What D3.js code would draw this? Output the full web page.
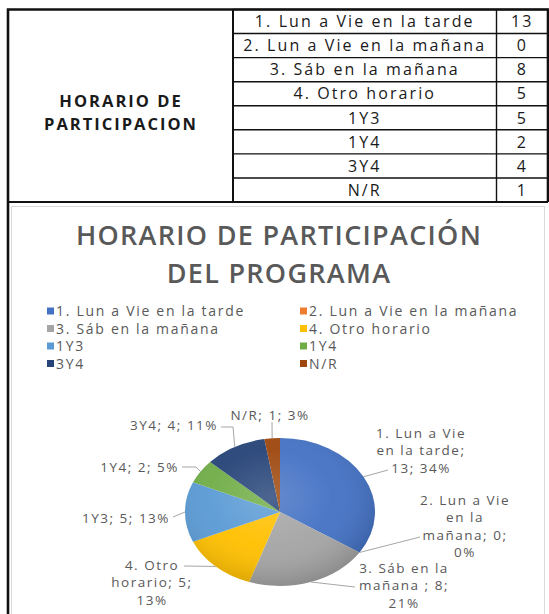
<!DOCTYPE html>
<html>
<head lang="es">
  <meta charset="UTF-8">
<title>Horario de participacion</title>
<style>
body { margin: 0; background: #fff; }
.tbl { font-family: "Open Sans", sans-serif; font-size: 16px; letter-spacing: 2.1px; fill: #1a1a1a; }
.tblhead { font-weight: bold; font-size: 16.5px; letter-spacing: 2px; }
.title { font-family: "Open Sans", sans-serif; font-size: 27px; font-weight: 600; letter-spacing: 1.3px; fill: #595959; }
.legend { font-family: "Open Sans", sans-serif; font-size: 14px; letter-spacing: 1.7px; fill: #595959; }
.lbl { font-family: "Open Sans", sans-serif; font-size: 13.5px; letter-spacing: 1.5px; fill: #595959; }
</style>
<script src="https://cdn.jsdelivr.net/npm/d3@7"></script>
</head>
<body>
<div id="vis"></div>
<script>

// data
var categories = ["1. Lun a Vie en la tarde", "2. Lun a Vie en la mañana", "3. Sáb en la mañana",
  "4. Otro horario", "1Y3", "1Y4", "3Y4", "N/R"];
var counts = [13, 0, 8, 5, 5, 2, 4, 1];
var colors = ["#4472C4", "#ED7D31", "#A5A5A5", "#FFC000", "#5B9BD5", "#70AD47", "#264478", "#9E480E"];
var tableHeader = ["HORARIO DE", "PARTICIPACION"];
var titleLines = ["HORARIO DE PARTICIPACIÓN", "DEL PROGRAMA"];
// how the data labels wrap in the chart
var labelNames = [["1. Lun a Vie", "en la tarde;"], ["2. Lun a Vie", "en la", "mañana;"], ["3. Sáb en la", "mañana ;"],
  ["4. Otro", "horario;"], ["1Y3;"], ["1Y4;"], ["3Y4;"], ["N/R;"]];

var total = d3.sum(counts);
function pct(v) { return Math.round(v / total * 100) + "%"; }

// build the label lines: name; value; percent
var labelLines = labelNames.map(function(n, i) {
  var lines = n.slice();
  var last = lines.length - 1;
  if (lines.length == 1) {
    lines[0] = lines[0] + " " + counts[i] + "; " + pct(counts[i]);
  } else if (i == 0) {
    lines.push(counts[i] + "; " + pct(counts[i]));
  } else {
    lines[last] = lines[last] + " " + counts[i] + ";";
    lines.push(pct(counts[i]));
  }
  return lines;
});

// label placement (x, y of first line, anchor, leader bend points)
var labelPos = [
  {x: 421, y: 433, a: "middle", lead: [[388, 470]]},
  {x: 465, y: 500, a: "middle", lead: [[420, 537]]},
  {x: 404, y: 568, a: "middle", lead: [[355, 587]]},
  {x: 152, y: 565, a: "middle", lead: [[184, 566]]},
  {x: 170, y: 518, a: "end", lead: [[173, 517]]},
  {x: 179, y: 467, a: "end", lead: [[196, 467], [182, 467]]},
  {x: 218, y: 425, a: "end", lead: [[233, 427], [221, 427]]},
  {x: 270, y: 415, a: "middle", lead: [[272, 422]]}
];

var W = 549, H = 614;
var svg = d3.select("#vis").append("svg")
  .attr("width", W)
  .attr("height", H);

// ---- table ----
var tx = [8, 233, 496.5, 548];
var ty = d3.scaleLinear().domain([0, categories.length]).range([9.5, 202]);

var rows = svg.append("g");
categories.forEach(function(c, i) {
  rows.append("line")
    .attr("x1", tx[1]).attr("x2", tx[3])
    .attr("y1", ty(i)).attr("y2", ty(i))
    .attr("stroke", "#111").attr("stroke-width", 1.4);
  rows.append("text")
    .attr("class", "tbl")
    .attr("x", (tx[1] + tx[2]) / 2)
    .attr("y", (ty(i) + ty(i + 1)) / 2)
    .attr("dy", "0.36em")
    .attr("text-anchor", "middle")
    .text(c);
  rows.append("text")
    .attr("class", "tbl")
    .attr("x", (tx[2] + tx[3]) / 2)
    .attr("y", (ty(i) + ty(i + 1)) / 2)
    .attr("dy", "0.36em")
    .attr("text-anchor", "middle")
    .text(counts[i]);
});
[tx[1], tx[2]].forEach(function(x) {
  rows.append("line")
    .attr("x1", x).attr("x2", x)
    .attr("y1", ty(0)).attr("y2", ty(categories.length))
    .attr("stroke", "#111").attr("stroke-width", x == tx[1] ? 2 : 1.4);
});
rows.append("line")
  .attr("x1", tx[0]).attr("x2", tx[3])
  .attr("y1", ty(categories.length)).attr("y2", ty(categories.length))
  .attr("stroke", "#111").attr("stroke-width", 2);
rows.append("path")
  .attr("d", "M" + tx[0] + "," + H + "V" + ty(0) + "H" + tx[3] + "V" + ty(categories.length))
  .attr("fill", "none").attr("stroke", "#111").attr("stroke-width", 2.6);

tableHeader.forEach(function(t, i) {
  svg.append("text")
    .attr("class", "tbl tblhead")
    .attr("x", 121)
    .attr("y", 101 + i * 23)
    .attr("dy", "0.36em")
    .attr("text-anchor", "middle")
    .text(t);
});

// ---- chart box ----
svg.append("rect")
  .attr("x", 11.5).attr("y", 206.5)
  .attr("width", 533).attr("height", 420)
  .attr("fill", "#fff").attr("stroke", "#d9d9d9");

titleLines.forEach(function(t, i) {
  svg.append("text")
    .attr("class", "title")
    .attr("x", 279)
    .attr("y", 235 + i * 38)
    .attr("dy", "0.36em")
    .attr("text-anchor", "middle")
    .text(t);
});

// legend, two columns
var legend = svg.append("g");
categories.forEach(function(c, i) {
  var col = i % 2, row = Math.floor(i / 2);
  var lx = col == 0 ? 47 : 300;
  var ly = 311 + row * 17.5;
  legend.append("rect")
    .attr("x", lx).attr("y", ly - 3.5)
    .attr("width", 7).attr("height", 7)
    .attr("fill", colors[i]);
  legend.append("text")
    .attr("class", "legend")
    .attr("x", lx + 9)
    .attr("y", ly)
    .attr("dy", "0.36em")
    .text(c);
});

// ---- pie (squashed, like excel's tilted pie) ----
var cx = 280, cy = 512, rx = 95, ry = 74;

var defs = svg.append("defs");
var grad = defs.append("radialGradient")
  .attr("id", "shade")
  .attr("cx", "45%").attr("cy", "40%").attr("r", "60%");
grad.append("stop").attr("offset", "0%").attr("stop-color", "#fff").attr("stop-opacity", 0.18);
grad.append("stop").attr("offset", "55%").attr("stop-color", "#fff").attr("stop-opacity", 0.04);
grad.append("stop").attr("offset", "100%").attr("stop-color", "#000").attr("stop-opacity", 0.14);

var pie = d3.pie().sort(null).value(function(d) { return d; });
var arcs = pie(counts);
var arc = d3.arc().innerRadius(0).outerRadius(rx);

var pieG = svg.append("g")
  .attr("transform", "translate(" + cx + "," + cy + ") scale(1," + (ry / rx) + ")");

pieG.selectAll("path.slice")
  .data(arcs)
  .enter()
  .append("path")
  .attr("class", "slice")
  .attr("d", arc)
  .attr("fill", function(d, i) { return colors[i]; });

pieG.append("circle")
  .attr("r", rx)
  .attr("fill", "url(#shade)");

// leader lines + labels
arcs.forEach(function(d, i) {
  var mid = (d.startAngle + d.endAngle) / 2;
  var ex = cx + rx * Math.sin(mid), ey = cy - ry * Math.cos(mid);
  var pts = [[ex, ey]].concat(labelPos[i].lead);
  svg.append("path")
    .attr("d", d3.line()(pts))
    .attr("fill", "none")
    .attr("stroke", "#a6a6a6")
    .attr("stroke-width", 1);

  var t = svg.append("text")
    .attr("class", "lbl")
    .attr("text-anchor", labelPos[i].a);
  labelLines[i].forEach(function(line, j) {
    t.append("tspan")
      .attr("x", labelPos[i].x)
      .attr("y", labelPos[i].y + j * 17.5)
      .attr("dy", "0.36em")
      .text(line);
  });
});

</script>
</body>
</html>
